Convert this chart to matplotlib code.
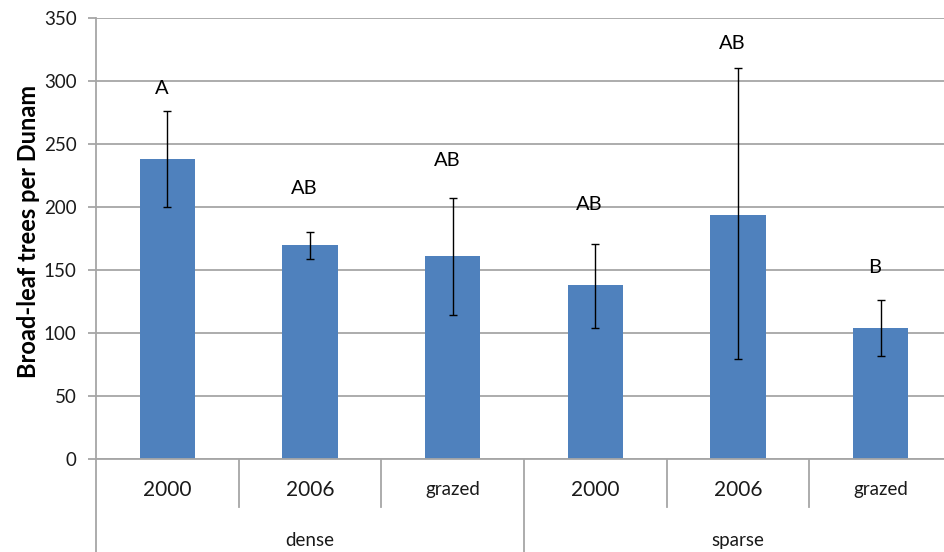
import matplotlib
matplotlib.use("Agg")
import matplotlib.pyplot as plt

plt.rcParams['font.family'] = ['Lato', 'DejaVu Sans']

# data
treatments = ["2000", "2006", "grazed", "2000", "2006", "grazed"]
groups = ["dense", "sparse"]
means = [238, 170, 161, 138, 194, 104]
err_low = [200, 159, 114, 104, 79, 82]
err_high = [276, 180, 207, 171, 310, 126]
letters = ["A", "AB", "AB", "AB", "AB", "B"]
letter_y = [294, 215, 237, 202, 330, 152]

x = list(range(len(means)))
yerr = [[m - lo for m, lo in zip(means, err_low)],
        [hi - m for m, hi in zip(means, err_high)]]

fig = plt.figure(figsize=(9.45, 5.52), dpi=100)
ax = fig.add_axes([96 / 945, 93 / 552, 856 / 945, 441 / 552])

grid_c = "#A6A6A6"
ax.bar(x, means, width=0.39, color="#4F81BD", zorder=2)
ax.errorbar(x, means, yerr=yerr, fmt="none", ecolor="black", elinewidth=1,
            capsize=3, capthick=1, zorder=3)

for xi, lab, ly in zip(x, letters, letter_y):
    ax.text(xi - 0.04, ly, lab, ha="center", va="center", fontsize=14.5)

ax.set_xlim(-0.5, len(means) - 0.5)
ax.set_ylim(0, 350)
ax.set_yticks(range(0, 351, 50))
ax.yaxis.grid(True, color=grid_c, linewidth=1.3, zorder=0)
ax.set_axisbelow(True)
ax.tick_params(axis="y", length=6, color=grid_c, width=1.3, labelsize=13.5,
               pad=8, labelcolor="#1a1a1a")
ax.set_xticks([])
for s in ["top", "right"]:
    ax.spines[s].set_visible(False)
ax.spines["left"].set_color(grid_c)
ax.spines["bottom"].set_color(grid_c)
ax.spines["left"].set_linewidth(1.3)
ax.spines["bottom"].set_linewidth(1.3)

ax.set_ylabel("Broad-leaf trees per Dunam", fontsize=17, fontweight="bold")
ax.yaxis.set_label_coords(-0.066, 0.515)

# category axis: labels and separators
tr = ax.get_xaxis_transform()
for xi, t in zip(x, treatments):
    fs = 13.5 if t == "grazed" else 15
    ax.text(xi, -0.07, t, transform=tr, ha="center", va="center", fontsize=fs,
            color="#1a1a1a")
for b in [0.5, 1.5, 3.5, 4.5]:
    ax.plot([b, b], [0, -0.108], transform=tr, color=grid_c, lw=1.3,
            clip_on=False)
for b in [-0.5, 2.5]:
    ax.plot([b, b], [0, -0.215], transform=tr, color=grid_c, lw=1.3,
            clip_on=False)
n = len(treatments) // len(groups)
for gi, g in enumerate(groups):
    ax.text(gi * n + (n - 1) / 2, -0.184, g, transform=tr, ha="center",
            va="center", fontsize=13.5, color="#1a1a1a")

fig.savefig("out.png", dpi=100)
